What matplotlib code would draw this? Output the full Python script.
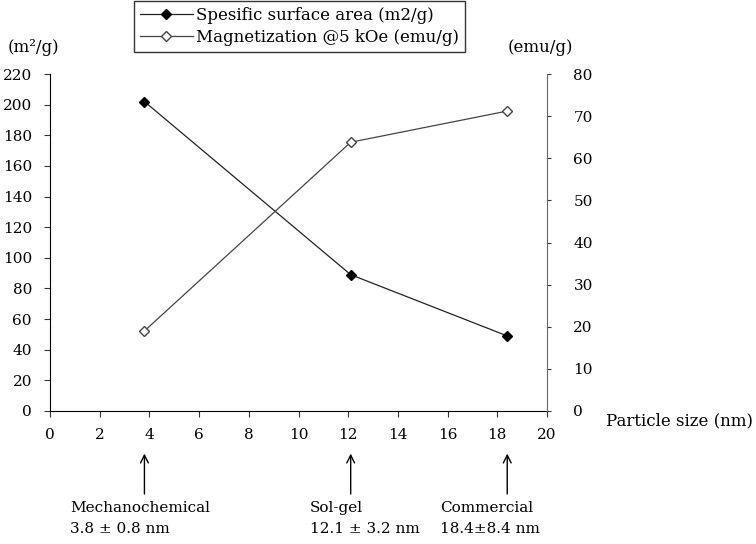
import numpy as np
from matplotlib import pyplot as plt

plt.rcParams['font.family'] = ['DejaVu Serif']

# Data
sizes = [3.8, 12.1, 18.4]
surface_area = [202, 89, 49]
magnetization = [19, 63.8, 71.2]
methods = ['Mechanochemical\n3.8 ± 0.8 nm', 'Sol-gel\n12.1 ± 3.2 nm', 'Commercial\n18.4±8.4 nm']
label_offsets = [-3.0, -1.65, -2.7]

fig = plt.figure(figsize=(7.56, 5.44), dpi=100)
ax1 = fig.add_axes([50 / 756, 1 - 411 / 544, 497 / 756, 337 / 544])
ax2 = ax1.twinx()

l1, = ax1.plot(sizes, surface_area, color='#222222', lw=0.9, marker='D', ms=5,
               mfc='black', mec='black', label='Spesific surface area (m2/g)')
l2, = ax2.plot(sizes, magnetization, color='#444444', lw=0.9, marker='D', ms=5,
               mfc='white', mec='#444444', label='Magnetization @5 kOe (emu/g)')

ax1.set_xlim(0, 20)
ax1.set_ylim(0, 220)
ax2.set_ylim(0, 80)
ax1.set_xticks(np.arange(0, 21, 2))
ax1.set_yticks(np.arange(0, 221, 20))
ax2.set_yticks(np.arange(0, 81, 10))

for ax in (ax1, ax2):
    ax.spines['top'].set_visible(False)
    ax.tick_params(labelsize=11, length=4, width=0.8, color='#333333')
ax1.spines['right'].set_visible(False)
ax2.spines['left'].set_visible(False)
ax2.spines['bottom'].set_visible(False)
ax2.spines['right'].set_color('#666666')
ax2.tick_params(axis='y', length=3, pad=16)
ax1.tick_params(axis='y', pad=9)
ax1.tick_params(axis='x', pad=8)

fig.text(8 / 756, 1 - 48 / 544, '(m²/g)', fontsize=12, va='center')
fig.text(508 / 756, 1 - 48 / 544, '(emu/g)', fontsize=12, va='center')
fig.text(606 / 756, 1 - 421 / 544, 'Particle size (nm)', fontsize=12, va='center')

for x, txt, off in zip(sizes, methods, label_offsets):
    ax1.annotate('', xy=(x, -26), xytext=(x, -56), xycoords='data',
                 arrowprops=dict(arrowstyle='->', color='black', lw=1.0,
                                 mutation_scale=14),
                 annotation_clip=False)
    ax1.text(x + off, -59, txt, fontsize=11, ha='left', va='top',
             linespacing=1.6, clip_on=False)

fig.legend(handles=[l1, l2], loc='upper left', bbox_to_anchor=(133 / 756, 1.0),
           fontsize=12, frameon=True, fancybox=False, edgecolor='black',
           handlelength=3.2, borderpad=0.35, labelspacing=0.3, handletextpad=0.2,
           borderaxespad=0.05)

fig.savefig('out.png', dpi=100)
